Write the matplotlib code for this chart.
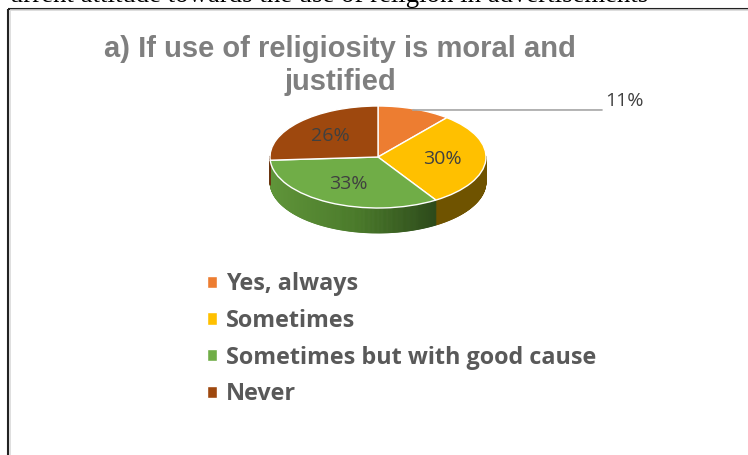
import numpy as np
import matplotlib.pyplot as plt
from matplotlib.collections import PolyCollection
from matplotlib.colors import LinearSegmentedColormap, to_rgb
from matplotlib.patches import Rectangle

# data
categories = ["Yes, always", "Sometimes", "Sometimes but with good cause", "Never"]
shares = [11, 30, 33, 26]
top_colors = ["#ED7D31", "#FFC000", "#70AD47", "#9E480E"]
title_lines = ["a) If use of religiosity is moral and", "justified"]
caption = "urrent attitude towards the use of religion in advertisements"

W, H = 748, 455
fig = plt.figure(figsize=(W / 100, H / 100), dpi=100)

# page layer in pixel coordinates
bg = fig.add_axes([0, 0, 1, 1])
bg.set_xlim(0, W)
bg.set_ylim(H, 0)
bg.axis("off")
bg.text(10, 2.5, caption, family="Liberation Serif", fontsize=19.3,
        va="baseline", ha="left", color="black")
bg.add_patch(Rectangle((8, 8.5), W + 20, H + 20, fill=False,
                       edgecolor="#222222", lw=1.5))
bg.add_patch(Rectangle((9.8, 10.2), W + 20, H + 20, fill=False,
                       edgecolor="#d9d9d9", lw=1.2))
for k, line in enumerate(title_lines):
    bg.text(340, 57 + 33 * k, line, family="Liberation Sans", weight="bold",
            fontsize=21, color="#7f7f7f", ha="center", va="baseline")

# pie axes: unit circle drawn as ellipse 108 x 51 px centred at (378,157)
cx, cy, rx, ry = 378, 157, 108, 51
x0, x1, y0, y1 = -1.3, 1.3, -1.9, 1.3
ax = fig.add_axes([(cx + x0 * rx) / W, (H - (cy - y0 * ry)) / H,
                   (x1 - x0) * rx / W, (y1 - y0) * ry / H])

depth = 25 / ry
frac = np.array(shares) / sum(shares)
bounds = 90 - 360 * np.concatenate([[0], np.cumsum(frac)])

# front side of the disc, shaded per slice
green_cm = LinearSegmentedColormap.from_list("g", ["#60953a", "#4a7a2a", "#2a4619"])
side_polys, side_cols = [], []
for i in range(len(shares)):
    t = np.radians(np.linspace(bounds[i + 1], bounds[i], 200))
    t = t[np.sin(t) < 0.02]
    for a, b in zip(t[:-1], t[1:]):
        xa, xb = np.cos(a), np.cos(b)
        ya, yb = np.sin(a), np.sin(b)
        side_polys.append([(xa, ya), (xb, yb), (xb, yb - depth), (xa, ya - depth)])
        if i == 2:
            side_cols.append(green_cm(np.clip((xa + 1) / 1.6, 0, 1)))
        elif i == 1:
            side_cols.append(to_rgb("#6f5300"))
        elif i == 3:
            side_cols.append(to_rgb("#6b3510"))
        else:
            side_cols.append(to_rgb("#8c4a1d"))
side = PolyCollection(side_polys, facecolors=side_cols, edgecolors=side_cols,
                      linewidths=0.6, zorder=1)
ax.add_collection(side)

wedges, _ = ax.pie(shares, colors=top_colors, startangle=90, counterclock=False,
                   radius=1, center=(0, 0), frame=True,
                   wedgeprops=dict(edgecolor="white", linewidth=1.0))
for w in wedges:
    w.set_zorder(2)
ax.set_xlim(x0, x1)
ax.set_ylim(y0, y1)
ax.set_aspect("auto")
ax.axis("off")

# percentage labels
mids = np.radians((bounds[:-1] + bounds[1:]) / 2)
lab_font = dict(family="Open Sans", fontsize=14, color="#404040")
for i, m in enumerate(mids):
    lab = f"{shares[i]}%"
    if i == 0:
        ax.annotate(lab, xy=(np.cos(m) * 0.95, np.sin(m) * 0.98),
                    xytext=(2.1, np.sin(m) * 0.98), ha="left", va="bottom",
                    annotation_clip=False, zorder=5,
                    arrowprops=dict(arrowstyle="-", color="#a6a6a6", lw=1.2,
                                    shrinkA=0, shrinkB=0, relpos=(0, 0)),
                    **lab_font)
    else:
        r = 0.6
        ax.text(np.cos(m) * r, np.sin(m) * r, lab, ha="center",
                va="center", zorder=5, **lab_font)

# legend
fig.legend(wedges, categories, loc="upper left",
           bbox_to_anchor=(186 / W, 1 - 251 / H), frameon=False,
           prop=dict(family="Open Sans", weight="bold", size=16.8),
           labelcolor="#595959", handlelength=0.43, handleheight=0.43,
           handletextpad=0.4, labelspacing=0.55)

fig.savefig("out.png", dpi=100)
